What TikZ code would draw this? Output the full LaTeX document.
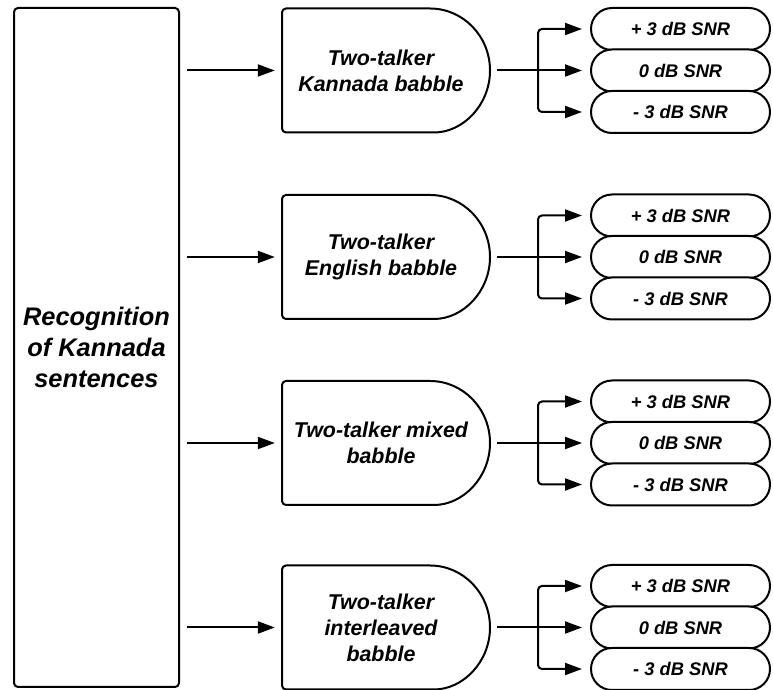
\documentclass[tikz,border=0pt]{standalone}
\usepackage{fontspec}
\setmainfont{Liberation Sans}
\usetikzlibrary{arrows.meta,shapes.misc,calc}
\tikzset{
  shp/.style={line width=2pt, line join=round},
  conn/.style={line width=2pt},
  arr/.style={conn, -{Triangle[length=17pt,width=12pt]}},
  mainbox/.style={draw, shp, rounded corners=4pt, minimum width=165pt, minimum height=679pt, inner sep=0pt, align=center,
    font=\fontsize{25.4}{31}\selectfont\bfseries\itshape},
  darea/.style={minimum width=208pt, minimum height=124pt, inner sep=0pt},
  dtext/.style={align=center, inner sep=0pt, font=\fontsize{21.4}{26}\selectfont\bfseries\itshape},
  pill/.style={draw, shp, fill=white, rounded rectangle, minimum width=179pt, minimum height=42pt, inner sep=0pt,
    font=\fontsize{18.3}{22}\selectfont\bfseries\itshape},
}
\newcommand{\grp}[3]{%
  \node[darea] (d#1) at (386,#2) {};
  \draw[shp] (430,{#2+62}) [rounded corners=4pt] -- (282,{#2+62}) -- (282,{#2-62}) -- (430,{#2-62}) [sharp corners]
     arc[start angle=-90,end angle=90,x radius=60,y radius=62] -- cycle;
  \node[dtext] (t#1) at (381,#2) {#3};
  \node[pill] (p#1a) at (680.5,{#2+41.5}) {+ 3 dB SNR};
  \node[pill] (p#1b) at (680.5,#2) {0 dB SNR};
  \node[pill] (p#1c) at (680.5,{#2-41.5}) {- 3 dB SNR};
  \coordinate (j#1) at (538,#2);
  \draw[arr, shorten <=7pt, shorten >=7pt] (L.east |- d#1.west) -- (d#1.west);
  \draw[conn, shorten <=7pt] (d#1.east) -- (j#1);
  \draw[arr, rounded corners=4pt, shorten >=8pt] (j#1) |- (p#1a.west);
  \draw[arr, shorten >=8pt] (j#1) -- (p#1b.west);
  \draw[arr, rounded corners=4pt, shorten >=8pt] (j#1) |- (p#1c.west);
}
\begin{document}
\begin{tikzpicture}[x=1pt,y=1pt]
\useasboundingbox (0,0) rectangle (773,690);
\node[mainbox] (L) at (96.5,342.5) {Recognition\\of Kannada\\sentences};
\grp{1}{619.5}{Two-talker\\Kannada babble}
\grp{2}{433}{Two-talker\\English babble}
\grp{3}{247}{Two-talker mixed\\babble}
\grp{4}{62.5}{Two-talker\\interleaved\\babble}
\end{tikzpicture}
\end{document}
